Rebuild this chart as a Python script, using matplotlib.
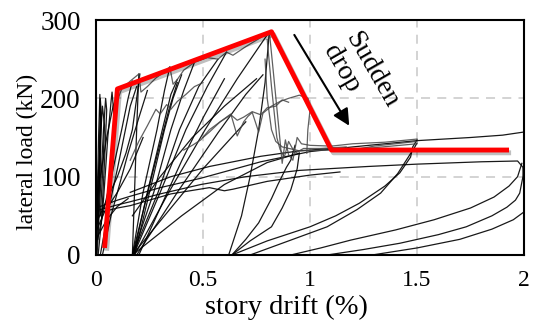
import matplotlib
matplotlib.use('Agg')
import matplotlib.pyplot as plt
import matplotlib.patheffects as pe

plt.rcParams['font.family'] = ['Liberation Serif', 'DejaVu Serif']

# envelope (red)
env_x = [0.04, 0.10, 0.82, 1.10, 1.93]
env_y = [9, 212, 285, 134, 134]

# hysteresis traces (drift %, load kN)
spike_a = [(0.00, 0), (0.005, 60), (0.012, 150), (0.018, 205), (0.022, 170), (0.015, 90), (0.008, 20)]
spike_b = [(0.005, 0), (0.02, 80), (0.035, 160), (0.045, 200), (0.05, 185), (0.04, 120), (0.025, 40)]
spike_c = [(0.01, 0), (0.035, 70), (0.055, 150), (0.07, 195), (0.075, 208), (0.085, 175), (0.075, 120)]
spike_d = [(0.0, 0), (0.01, 100), (0.03, 190), (0.04, 165), (0.03, 100), (0.02, 50)]
spike_e = [(0.0, 0), (0.015, 120), (0.02, 200), (0.025, 180), (0.02, 110), (0.01, 40)]
early_e = [(0.0, 10), (0.03, 50), (0.08, 110), (0.12, 160), (0.15, 200), (0.17, 222)]
early_f = [(0.0, 40), (0.05, 70), (0.10, 100), (0.14, 130), (0.17, 160), (0.19, 200), (0.205, 231)]
early_g = [(0.0, 30), (0.04, 55), (0.10, 80), (0.16, 110), (0.22, 150)]
early_h = [(0.02, 0), (0.06, 60), (0.10, 110), (0.13, 150), (0.16, 190), (0.19, 215)]
early_i = [(0.03, 0), (0.07, 50), (0.11, 90), (0.15, 130), (0.20, 175), (0.24, 210)]
early_j = [(0.0, 60), (0.02, 100), (0.05, 150), (0.08, 190), (0.10, 205)]
early_k = [(0.0, 20), (0.05, 45), (0.10, 62), (0.15, 72)]
backbone = [(0.09, 190), (0.12, 212), (0.16, 222), (0.20, 231), (0.21, 208), (0.24, 215), (0.28, 226),
            (0.31, 232), (0.345, 240), (0.36, 218), (0.38, 224), (0.41, 236), (0.46, 246), (0.52, 252),
            (0.57, 250), (0.61, 259), (0.64, 255), (0.70, 266), (0.76, 276), (0.81, 285)]
fan_1 = [(0.17, 0), (0.18, 80), (0.19, 160), (0.20, 231)]
fan_2 = [(0.17, 0), (0.22, 80), (0.285, 160), (0.32, 210), (0.345, 240)]
fan_3 = [(0.175, 0), (0.24, 80), (0.31, 160), (0.35, 205), (0.38, 224)]
fan_4 = [(0.18, 0), (0.25, 80), (0.32, 160), (0.36, 200), (0.40, 230)]
fan_5 = [(0.17, 0), (0.27, 80), (0.35, 160), (0.41, 210), (0.46, 246)]
fan_6 = [(0.17, 0), (0.29, 80), (0.39, 160), (0.48, 215), (0.57, 250)]
fan_7 = [(0.175, 0), (0.30, 80), (0.42, 160), (0.52, 215), (0.61, 259)]
fan_8 = [(0.18, 0), (0.34, 80), (0.51, 160), (0.66, 225), (0.81, 285)]
fan_9 = [(0.19, 0), (0.38, 80), (0.57, 156), (0.70, 205), (0.78, 230)]
fan_10 = [(0.20, 0), (0.30, 60), (0.40, 120), (0.50, 175), (0.60, 225)]
fan_11 = [(0.17, 0), (0.26, 100), (0.34, 185), (0.38, 220)]
mid_1 = [(0.17, 50), (0.30, 100), (0.45, 150), (0.60, 190), (0.75, 225)]
long_1 = [(0.17, 0), (0.40, 50), (0.60, 90), (0.80, 118), (0.95, 130)]
long_2 = [(0.17, 0), (0.35, 60), (0.50, 110), (0.60, 140), (0.70, 170)]
jag_1 = [(0.16, 121), (0.20, 145), (0.24, 165), (0.28, 186), (0.30, 180), (0.33, 192), (0.35, 186),
         (0.38, 196), (0.42, 205), (0.46, 215), (0.50, 220)]
jag_2 = [(0.41, 134), (0.45, 140), (0.49, 147), (0.53, 160), (0.56, 166), (0.59, 172), (0.63, 180),
         (0.66, 152), (0.69, 170), (0.71, 177), (0.73, 182), (0.76, 157), (0.78, 181), (0.82, 190),
         (0.86, 196), (0.90, 200), (0.95, 204), (0.99, 200), (1.0, 185), (0.99, 160), (0.985, 130)]
jag_3 = [(0.50, 150), (0.53, 157), (0.58, 170), (0.63, 179), (0.66, 172), (0.69, 176), (0.73, 183),
         (0.77, 179), (0.80, 188), (0.84, 190), (0.87, 198), (0.90, 195)]
drop_1 = [(0.81, 285), (0.83, 230), (0.855, 160), (0.87, 117), (0.885, 147), (0.90, 128), (0.92, 121),
          (0.94, 150), (0.96, 142), (1.0, 140), (1.1, 139), (1.2, 142), (1.35, 144), (1.5, 148)]
drop_2 = [(0.80, 275), (0.82, 215), (0.845, 150), (0.86, 135), (0.88, 125), (0.90, 145), (0.93, 130),
          (0.97, 136), (1.05, 136), (1.17, 138), (1.18, 133), (1.3, 139), (1.5, 145)]
drop_3 = [(0.79, 250), (0.80, 200), (0.82, 160), (0.84, 145), (0.87, 138), (0.95, 133), (1.1, 134),
          (1.3, 137), (1.5, 142)]
reload_pk = [(0.62, 0), (0.68, 50), (0.72, 100), (0.76, 160), (0.79, 220), (0.81, 285)]
reload_1 = [(0.635, 0), (0.70, 20), (0.76, 41), (0.82, 72), (0.85, 90), (0.89, 112), (0.91, 121), (0.93, 140)]
reload_2 = [(0.635, 0), (0.72, 18), (0.82, 36), (0.87, 60), (0.91, 83), (0.94, 110), (0.95, 130)]
reload_3 = [(0.635, 0), (0.80, 18), (1.0, 36), (1.12, 50), (1.23, 66), (1.35, 88), (1.42, 105),
            (1.47, 125), (1.48, 138), (1.50, 147)]
reload_4 = [(0.72, 0), (0.90, 18), (1.08, 36), (1.22, 58), (1.33, 79), (1.41, 104), (1.45, 121),
            (1.49, 138), (1.50, 143)]
reload_5 = [(0.91, 0), (1.05, 9), (1.19, 19), (1.40, 32), (1.58, 45), (1.75, 60), (1.86, 74),
            (1.93, 88), (1.97, 100), (1.99, 117)]
reload_6 = [(1.08, 0), (1.25, 7), (1.42, 15), (1.60, 26), (1.73, 36), (1.85, 50), (1.92, 61),
            (1.96, 70), (1.98, 79), (1.995, 100), (2.0, 121)]
reload_7 = [(1.29, 0), (1.50, 9), (1.70, 20), (1.85, 33), (1.95, 45), (2.0, 55)]
flat_1 = [(0.02, 62), (0.10, 70), (0.16, 75), (0.30, 86), (0.49, 98), (0.77, 119), (1.0, 132),
          (1.2, 138), (1.5, 146), (1.75, 150), (1.9, 153), (2.0, 157)]
flat_2 = [(0.02, 58), (0.10, 64), (0.16, 68), (0.30, 78), (0.49, 90), (0.70, 100), (0.95, 108),
          (1.27, 113), (1.5, 116), (1.8, 119), (1.97, 120), (1.995, 112), (2.0, 95)]
flat_3 = [(0.03, 55), (0.10, 60), (0.16, 63), (0.35, 78), (0.53, 86), (0.60, 82), (0.64, 84),
          (0.80, 94), (1.0, 102), (1.14, 106)]
flat_4 = [(0.16, 80), (0.35, 100), (0.53, 113), (0.77, 126), (0.95, 133), (1.1, 136)]

black_curves = [spike_a, spike_b, spike_c, spike_d, spike_e, early_e, early_f, early_g, early_h,
                early_i, early_j, early_k, fan_1, fan_2, fan_3, fan_4, fan_5, fan_6, fan_7, fan_8,
                fan_9, fan_10, fan_11, mid_1, long_1, long_2, reload_pk, reload_1, reload_2,
                reload_3, reload_4, reload_5, reload_6, reload_7, flat_1, flat_2, flat_3, flat_4]
grey_curves = [backbone, jag_1, jag_2, jag_3, drop_1, drop_2, drop_3]

xticks = [0, 0.5, 1, 1.5, 2]
xtick_labels = ['0', '0.5', '1', '1.5', '2']
yticks = [0, 100, 200, 300]

fig = plt.figure(figsize=(5.33, 3.30), dpi=100)
ax = fig.add_axes([96 / 533, 75 / 330, 428 / 533, 235 / 330])

for c in black_curves:
    ax.plot([p[0] for p in c], [p[1] for p in c], color='black', lw=0.9, alpha=0.9)
for c in grey_curves:
    ax.plot([p[0] for p in c], [p[1] for p in c], color='#444444', lw=0.9, alpha=0.85)

ax.plot(env_x, env_y, color='#ff0000', lw=3.5, solid_capstyle='butt',
        path_effects=[pe.SimpleLineShadow(offset=(1.5, -2), shadow_color='black', alpha=0.25),
                      pe.Normal()])

ax.annotate('', xy=(1.19, 162), xytext=(0.92, 284),
            arrowprops=dict(arrowstyle='-|>', color='black', lw=1.5, mutation_scale=25))
ax.text(1.235, 228, 'Sudden\ndrop', rotation=-60, ha='center', va='center',
        multialignment='left', fontsize=20, linespacing=1.0)

ax.set_xlim(0, 2)
ax.set_ylim(0, 300)
ax.set_xticks(xticks)
ax.set_xticklabels(xtick_labels)
ax.set_yticks(yticks)
ax.tick_params(axis='x', length=0, pad=11, labelsize=17)
ax.tick_params(axis='y', length=0, pad=11, labelsize=19.5)
ax.grid(True, color='#d0d0d0', linestyle=(0, (5, 4)), lw=1.3)
ax.set_axisbelow(True)
for s in ax.spines.values():
    s.set_linewidth(1.5)
    s.set_color('black')

ax.set_xlabel('story drift (%)', fontsize=20.5)
ax.xaxis.set_label_coords(0.446, -0.17)
ax.set_ylabel('lateral load (kN)', fontsize=17)
ax.yaxis.set_label_coords(-0.1355, 0.438)

fig.savefig('out.png', dpi=100)
